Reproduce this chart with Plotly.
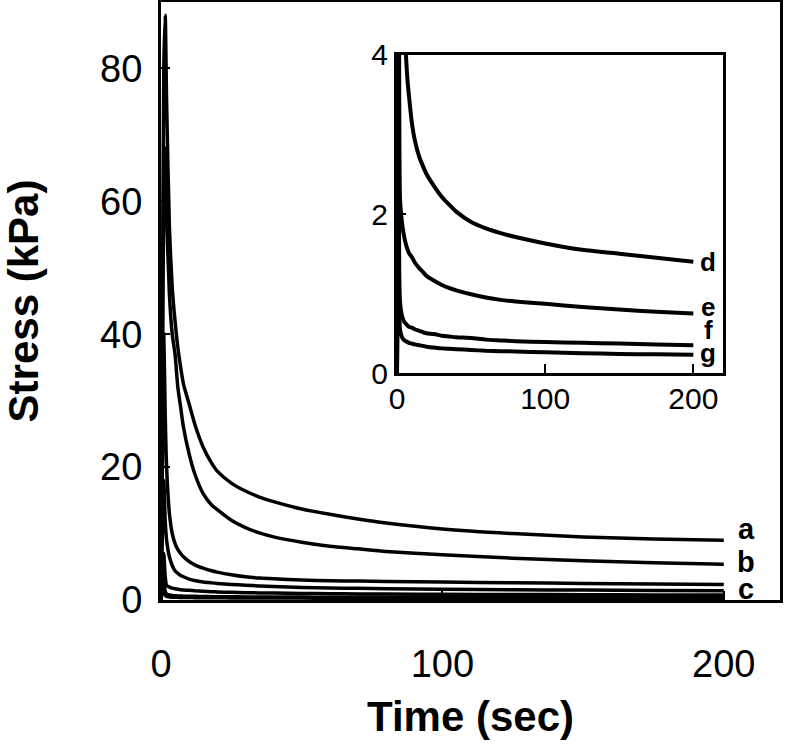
import plotly.graph_objects as go

# time axis (sec) shared by all the relaxation curves
time = [0, 0.5, 1, 1.5, 2, 3, 4, 5, 6, 7, 8, 10, 12, 15, 18, 20, 25, 30, 35, 40,
        50, 60, 70, 80, 100, 125, 150, 175, 200]

# stress (kPa)
stress_a = [0, 40, 80, 88, 75, 56, 47, 42, 38, 35, 32.5, 29.5, 26.5, 23, 20.6, 19.4, 17.6, 16.4, 15.5, 14.8,
            13.7, 12.9, 12.2, 11.6, 10.7, 10.0, 9.5, 9.2, 9.0]
stress_b = [0, 30, 62, 68, 58, 46, 40, 37, 32, 29, 26, 22, 19, 16, 14.3, 13.6, 12, 10.9, 10.1, 9.5,
            8.7, 8.1, 7.7, 7.3, 6.8, 6.3, 5.9, 5.6, 5.4]
stress_c = [0, 20, 40, 28, 20, 13, 10, 8.5, 7.6, 7, 6.5, 5.8, 5.3, 4.8, 4.4, 4.2, 3.8, 3.5, 3.3, 3.2,
            3.0, 2.9, 2.85, 2.8, 2.7, 2.6, 2.5, 2.4, 2.35]
stress_d = [0, 10, 18, 12, 9, 6.5, 5.2, 4.4, 4.0, 3.7, 3.5, 3.15, 2.93, 2.72, 2.58, 2.5, 2.35, 2.22, 2.12, 2.03,
            1.9, 1.82, 1.76, 1.71, 1.63, 1.55, 1.5, 1.45, 1.4]
stress_e = [0, 4, 7, 3.5, 2.2, 1.95, 1.8, 1.7, 1.62, 1.56, 1.51, 1.46, 1.39, 1.32, 1.26, 1.22, 1.16, 1.11, 1.07, 1.04,
            0.99, 0.95, 0.92, 0.9, 0.87, 0.83, 0.8, 0.77, 0.75]
stress_f = [0, 2, 3, 1.3, 0.9, 0.75, 0.68, 0.64, 0.62, 0.6, 0.58, 0.57, 0.55, 0.53, 0.51, 0.5, 0.49, 0.47, 0.46, 0.45,
            0.44, 0.42, 0.41, 0.4, 0.39, 0.38, 0.37, 0.36, 0.35]
stress_g = [0, 1.2, 1.6, 0.8, 0.55, 0.47, 0.43, 0.41, 0.40, 0.39, 0.38, 0.37, 0.36, 0.35, 0.34, 0.33, 0.32, 0.31, 0.305, 0.3,
            0.29, 0.28, 0.275, 0.27, 0.26, 0.25, 0.24, 0.235, 0.23]

main_series = [stress_a, stress_b, stress_c, stress_d, stress_e, stress_f, stress_g]
inset_series = [stress_d, stress_e, stress_f, stress_g]

main_labels = ["a", "b", "c"]
main_label_y = [10.7, 5.7, 1.65]
inset_labels = ["d", "e", "f", "g"]
inset_label_y = [1.40, 0.83, 0.54, 0.25]

fig = go.Figure()

for ys in main_series:
    fig.add_trace(go.Scatter(x=time, y=ys, mode="lines", xaxis="x", yaxis="y",
                             line=dict(color="black", width=3.5, shape="spline", smoothing=0.6),
                             showlegend=False))

for ys in inset_series:
    fig.add_trace(go.Scatter(x=time, y=ys, mode="lines", xaxis="x2", yaxis="y2",
                             line=dict(color="black", width=4, shape="spline", smoothing=0.6),
                             showlegend=False))

for lab, yv in zip(main_labels, main_label_y):
    fig.add_annotation(x=208, y=yv, xref="x", yref="y", text="<b>%s</b>" % lab,
                       showarrow=False, font=dict(size=29, color="black"))

for lab, yv in zip(inset_labels, inset_label_y):
    fig.add_annotation(x=210, y=yv, xref="x2", yref="y2", text="<b>%s</b>" % lab,
                       showarrow=False, font=dict(size=26, color="black"))

axis_common = dict(showline=True, linecolor="black", mirror=True, showgrid=False, automargin=False,
                   zeroline=False, ticks="inside", tickcolor="black", tickwidth=2)

fig.update_layout(
    width=786, height=745,
    margin=dict(l=0, r=0, t=0, b=0),
    paper_bgcolor="white", plot_bgcolor="white",
    font=dict(family="Liberation Sans, Arial", color="black"),
    xaxis=dict(axis_common, domain=[0.2048, 0.9924], range=[0, 220], linewidth=3,
               tickvals=[0, 100, 200], ticklen=9, tickfont=dict(size=38),
               ticklabelstandoff=28,
               title=dict(text="<b>Time (sec)</b>", font=dict(size=42), standoff=18)),
    yaxis=dict(axis_common, domain=[0.1946, 0.9973], range=[0, 90], linewidth=3,
               tickvals=[0, 20, 40, 60, 80], ticklen=9, tickfont=dict(size=38),
               ticklabelstandoff=8,
               title=dict(text="<b>Stress (kPa)</b>", font=dict(size=42), standoff=64)),
    xaxis2=dict(axis_common, domain=[0.5051, 0.9198], range=[0, 220], linewidth=3,
                anchor="y2", tickvals=[0, 100, 200], ticklen=9, tickfont=dict(size=30),
                ticklabelstandoff=-3),
    yaxis2=dict(axis_common, domain=[0.4993, 0.9262], range=[0, 4], linewidth=3,
                anchor="x2", tickvals=[0, 2, 4], ticklen=9, tickfont=dict(size=30),
                ticklabelstandoff=0),
)

# drop the page's default body margin so the figure sits at the window's corner
fig.write_html("out.html", config={"displayModeBar": False},
               post_script="document.body.style.margin = '0';")
